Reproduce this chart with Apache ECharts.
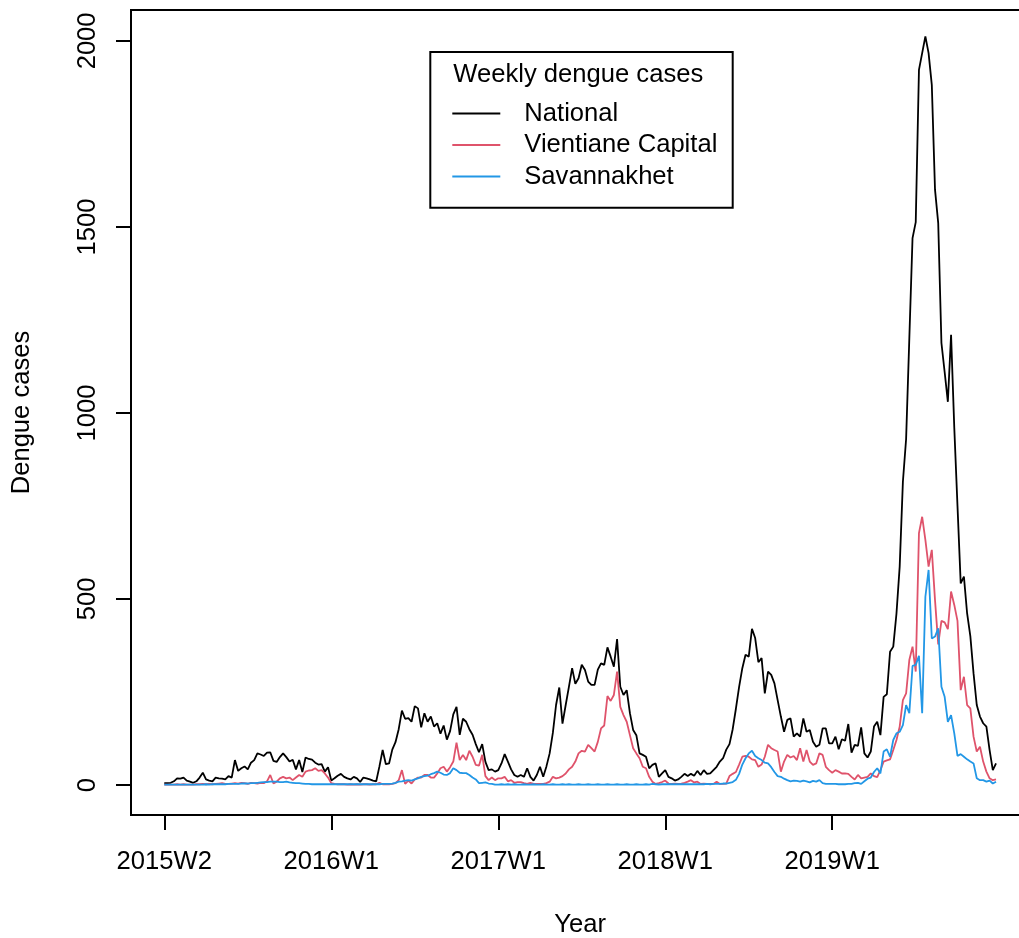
<!DOCTYPE html>
<html>
<head>
<meta charset="utf-8">
<script src="https://cdn.jsdelivr.net/npm/echarts@6/dist/echarts.min.js"></script>
<style>
html,body{margin:0;padding:0;background:#fff;}
#c{width:1019px;height:938px;}
</style>
</head>
<body>
<div id="c"></div>
<script>
// Weekly dengue cases, index 0 = 2015W2 ... 259 = 2019W52
const tickPositions = [0, 52, 104, 156, 208];
const tickLabels = ["2015W2", "2016W1", "2017W1", "2018W1", "2019W1"];
const yTicks = [0, 500, 1000, 1500, 2000];

const national = [
5,5,6,10,18,17,20,12,9,6,10,20,33,15,12,10,20,18,17,15,24,20,67,38,45,50,42,60,67,85,82,78,87,88,65,62,75,85,75,63,68,42,67,35,74,70,68,60,55,56,36,48,
12,18,25,30,22,18,15,22,18,8,20,18,15,12,10,50,94,56,58,95,115,150,200,178,180,170,212,206,155,193,170,184,157,166,138,160,122,145,190,210,135,178,170,150,135,110,88,110,62,40,42,36,
40,58,83,63,42,27,22,27,22,45,22,12,27,49,22,50,85,140,215,262,165,215,264,314,272,287,323,309,278,269,269,310,327,323,370,345,318,392,264,242,255,193,148,134,85,81,76,45,54,58,22,31,
40,22,18,12,15,22,30,24,30,25,38,27,40,30,31,40,49,63,72,95,110,150,205,264,314,350,345,420,395,330,341,246,305,296,273,228,184,143,175,179,130,139,130,179,143,148,116,103,108,152,152,112,
112,130,96,123,119,164,87,108,105,155,85,74,90,157,170,134,237,244,358,372,461,587,815,930,1200,1470,1513,1922,1967,2012,1967,1882,1600,1510,1188,1110,1030,1210,960,750,542,560,461,400,300,215,184,166,157,94,40,58
];

const vientiane = [
1,1,1,1,2,1,2,1,1,1,2,2,3,2,3,2,3,4,5,3,3,4,5,4,6,5,3,6,5,4,6,5,10,27,4,9,18,22,18,20,13,20,27,22,36,39,40,45,38,40,31,20,
5,3,2,2,2,1,2,1,2,1,2,2,1,2,2,6,2,2,2,3,5,13,40,3,12,4,15,20,20,27,27,20,20,31,45,49,36,48,63,114,67,81,67,92,76,54,52,81,24,13,20,13,
18,18,22,10,13,6,8,8,5,3,6,3,3,3,3,5,9,22,18,20,24,31,42,49,63,85,92,90,108,99,90,116,152,160,239,226,242,305,210,188,170,134,99,85,72,49,45,22,9,3,5,8,
12,4,3,4,3,4,6,9,13,7,9,3,4,3,3,3,9,3,3,4,24,30,35,55,76,78,76,69,67,49,55,76,108,99,94,90,36,63,81,74,78,67,99,63,94,63,54,58,85,81,49,40,
33,40,36,31,31,30,22,15,27,18,20,22,31,24,21,40,63,66,69,94,121,157,228,246,336,372,305,677,721,659,587,632,497,378,441,437,419,520,484,441,255,291,215,206,130,90,103,63,36,18,13,15
];

const savannakhet = [
1,1,1,1,1,1,1,1,1,1,1,1,1,2,1,2,2,2,2,2,3,3,3,3,4,4,4,5,5,6,7,8,8,9,9,9,8,8,9,7,6,5,5,4,3,3,2,2,2,2,2,2,
2,2,2,2,2,2,2,2,2,2,2,2,2,2,2,2,3,3,3,4,6,9,10,12,13,12,15,18,22,24,25,29,32,36,33,28,27,32,45,40,33,32,32,27,20,15,5,6,7,4,3,1,
1,2,1,2,1,2,1,1,2,1,1,2,1,1,2,1,1,2,1,1,2,1,2,1,1,2,1,1,2,1,1,2,1,1,2,1,1,2,1,1,2,1,1,2,1,1,2,1,3,2,1,2,
2,2,2,2,2,2,2,2,2,2,2,2,2,3,2,3,3,3,4,4,6,8,14,30,55,72,85,92,78,72,67,60,58,48,35,24,22,17,13,10,12,11,9,12,10,7,11,9,13,5,3,3,
3,3,2,2,2,3,3,5,6,3,10,17,20,35,45,31,90,96,76,121,139,143,161,215,193,320,323,347,193,506,578,394,399,421,264,237,170,188,139,78,83,76,69,63,58,18,13,13,9,12,4,9
];

const FONT = "'Liberation Sans', Arial, Helvetica, sans-serif";
const FS = 25.6;
const toPairs = arr => arr.map((v, i) => [i, v]);

const chart = echarts.init(document.getElementById('c'), null, {renderer: 'canvas'});
chart.setOption({
  animation: false,
  backgroundColor: '#ffffff',
  textStyle: {fontFamily: FONT},
  title: {
    text: 'Weekly dengue cases',
    left: 453.3, top: 61.7, padding: 0,
    textStyle: {fontFamily: FONT, fontSize: FS, fontWeight: 'normal', color: '#000'}
  },
  graphic: [{
    type: 'rect', left: 429.3, top: 51, z: 100, silent: true,
    shape: {width: 302.4, height: 155.7},
    style: {fill: 'rgba(0,0,0,0)', stroke: '#000', lineWidth: 2}
  }],
  legend: {
    orient: 'vertical', left: 452.3, top: 97.8, padding: 0,
    itemWidth: 48, itemHeight: 2, itemGap: 0, icon: 'rect',
    textStyle: {fontFamily: FONT, fontSize: FS, color: '#000', lineHeight: 31.5, padding: [0, 0, 0, 19]},
    data: ['National', 'Vientiane Capital', 'Savannakhet']
  },
  grid: {
    left: 131, top: 10, width: 898.3, height: 805,
    show: true, borderColor: '#000', borderWidth: 2, containLabel: false,
    outerBoundsMode: 'none'
  },
  xAxis: {
    type: 'value', min: -10.36, max: 269.36,
    name: 'Year', nameLocation: 'middle', nameGap: 96.7,
    nameTextStyle: {fontFamily: FONT, fontSize: FS, color: '#000'},
    axisLine: {show: false, onZero: false},
    splitLine: {show: false},
    axisTick: {show: true, length: 15, lineStyle: {color: '#000', width: 2}, customValues: tickPositions},
    axisLabel: {
      fontFamily: FONT, fontSize: FS, color: '#000', margin: 34,
      customValues: tickPositions,
      formatter: v => tickLabels[tickPositions.indexOf(v)] || ''
    }
  },
  yAxis: {
    type: 'value', min: -80.6, max: 2083,
    name: 'Dengue cases', nameLocation: 'middle', nameGap: 95.7,
    nameTextStyle: {fontFamily: FONT, fontSize: FS, color: '#000'},
    axisLine: {show: false, onZero: false},
    splitLine: {show: false},
    axisTick: {show: true, length: 15, lineStyle: {color: '#000', width: 2}, customValues: yTicks},
    axisLabel: {
      fontFamily: FONT, fontSize: FS, color: '#000', margin: 30, rotate: 90,
      customValues: yTicks,
      formatter: v => String(v)
    }
  },
  series: [
    {name: 'National', type: 'line', data: toPairs(national), symbol: 'none',
     lineStyle: {color: '#000000', width: 1.8}, itemStyle: {color: '#000000'}, z: 2},
    {name: 'Vientiane Capital', type: 'line', data: toPairs(vientiane), symbol: 'none',
     lineStyle: {color: '#DF536B', width: 1.8}, itemStyle: {color: '#DF536B'}, z: 3},
    {name: 'Savannakhet', type: 'line', data: toPairs(savannakhet), symbol: 'none',
     lineStyle: {color: '#2297E6', width: 1.8}, itemStyle: {color: '#2297E6'}, z: 4}
  ]
});
</script>
</body>
</html>
